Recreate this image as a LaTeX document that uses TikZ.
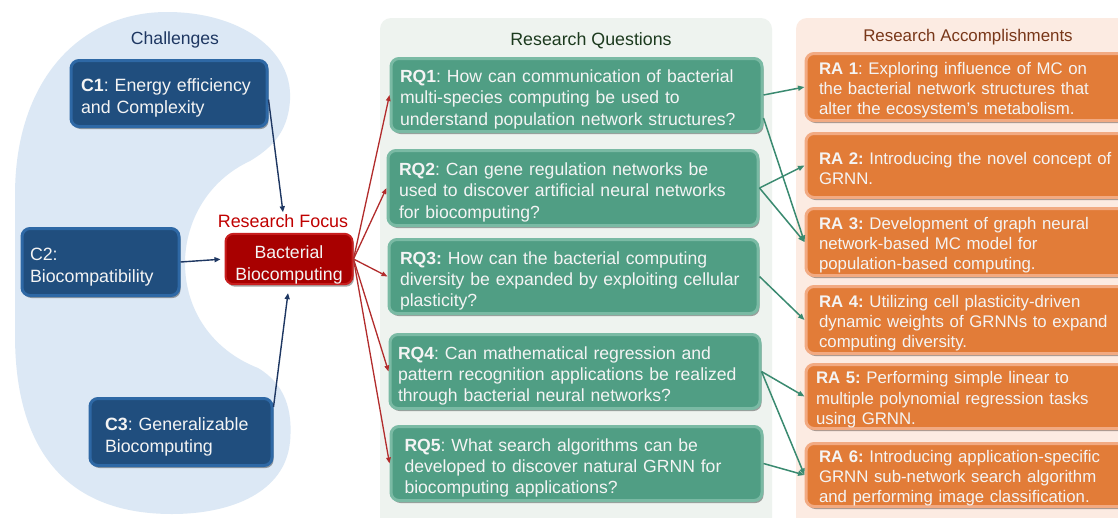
\documentclass[tikz,border=0pt]{standalone}
\usepackage{fontspec}
\setmainfont{Liberation Sans}
\usetikzlibrary{arrows.meta,shadows,calc}

\definecolor{blobblue}{RGB}{220,232,245}
\definecolor{cfill}{RGB}{32,78,126}
\definecolor{cborder}{RGB}{46,104,165}
\definecolor{ctitle}{RGB}{30,55,98}
\definecolor{focusred}{RGB}{192,0,0}
\definecolor{bffill}{RGB}{168,0,0}
\definecolor{bfborder}{RGB}{200,30,30}
\definecolor{rqpanel}{RGB}{238,243,239}
\definecolor{rqfill}{RGB}{80,158,132}
\definecolor{rqborder}{RGB}{122,186,164}
\definecolor{rqtitle}{RGB}{28,58,30}
\definecolor{rapanel}{RGB}{252,235,226}
\definecolor{rafill}{RGB}{226,124,56}
\definecolor{raborder}{RGB}{242,170,130}
\definecolor{ratitle}{RGB}{120,55,25}
\definecolor{boxtext}{RGB}{244,244,244}
\definecolor{redline}{RGB}{178,44,44}
\definecolor{greenline}{RGB}{58,138,112}

\begin{document}
\frenchspacing
\begin{tikzpicture}[x=1pt,y=-1pt,
  boxbase/.style={anchor=west, align=left, text=boxtext, rounded corners=8pt,
    line width=3pt, inner ysep=0pt,
    drop shadow={shadow xshift=1.5pt, shadow yshift=-2.5pt, opacity=0.35, fill=black}},
  cbox/.style={boxbase, draw=cborder, fill=cfill, font=\fontsize{17.8}{21.7}\selectfont,
    execute at begin node={\rule{0pt}{22pt}}},
  rqbox/.style={boxbase, draw=rqborder, fill=rqfill, font=\fontsize{17.6}{21.4}\selectfont,
    execute at begin node={\rule{0pt}{21.5pt}}},
  rabox/.style={boxbase, draw=raborder, fill=rafill, font=\fontsize{16.8}{20.3}\selectfont,
    execute at begin node={\rule{0pt}{18.5pt}}},
  bfbox/.style={align=center, text=boxtext, draw=bfborder, fill=bffill, rounded corners=8pt,
    line width=2pt, minimum width=127pt, minimum height=50pt, inner sep=0pt,
    font=\fontsize{17.7}{21.7}\selectfont,
    drop shadow={shadow xshift=1.5pt, shadow yshift=-2.5pt, opacity=0.35, fill=black}},
  heading/.style={font=\fontsize{17.6}{20}\selectfont, inner sep=2pt},
  bluearrow/.style={draw=ctitle, line width=1.4pt, -{Triangle[length=6pt,width=5pt]}},
  redarrow/.style={draw=redline, line width=1.3pt, -{Triangle[length=6pt,width=4.5pt]}},
  greenarrow/.style={draw=greenline, line width=1.5pt, -{Triangle[length=6.5pt,width=5pt]}}
]
\useasboundingbox (0,0) rectangle (1118,517);
\clip (0,0) rectangle (1118,517);
\fill[white] (0,0) rectangle (1118,517);

% kidney-shaped background of the challenges
\fill[blobblue] (167,12) .. controls (240,12) and (293,50) .. (290,100)
  .. controls (288,135) and (268,150) .. (250,161)
  .. controls (205,182) and (185,225) .. (185,263)
  .. controls (185,310) and (212,350) .. (258,368)
  .. controls (285,384) and (293,410) .. (290,442)
  .. controls (285,492) and (232,514) .. (172,514)
  .. controls (62,514) and (15,445) .. (15,335)
  -- (15,195) .. controls (15,80) and (80,12) .. (167,12) -- cycle;

% column panels
\fill[rqpanel, rounded corners=11pt] (380,18) rectangle (772,540);
\fill[rapanel, rounded corners=11pt] (796,18) rectangle (1140,540);

% headings
\node[heading, text=ctitle] (chal) at (175,40) {Challenges};
\node[heading, text=rqtitle, font=\fontsize{17.8}{20}\selectfont] (rqt) at (591,41) {Research Questions};
\node[heading, text=ratitle, font=\fontsize{16.9}{20}\selectfont] (rat) at (968,37) {Research Accomplishments};
\node[heading, text=focusred, font=\fontsize{17.9}{20}\selectfont] (rf) at (283,221) {Research Focus};

% challenges
\node[cbox, text width=176pt, inner xsep=10pt, minimum height=66pt] (c1) at (69.5,93.5)
  {\mbox{\textbf{C1}: Energy efficiency}\\\mbox{and Complexity}};
\node[cbox, text width=141pt, inner xsep=8pt, minimum height=67pt] (c2) at (20.5,262)
  {\mbox{C2:}\\\mbox{Biocompatibility}};
\node[cbox, text width=152pt, inner xsep=15pt, minimum height=67pt] (c3) at (88.5,432)
  {\mbox{\textbf{C3}: Generalizable}\\\mbox{Biocomputing}};

% research focus
\node[bfbox] (bf) at (289,259) {\rule{0pt}{25pt}Bacterial\\Biocomputing};

% research questions
\node[rqbox, text width=353pt, inner xsep=9pt, minimum height=73pt] (rq1) at (389.5,95)
  {\mbox{\textbf{RQ1}: How can communication of bacterial}\\\mbox{multi-species computing be used to}\\\mbox{understand population network structures?}};
\node[rqbox, text width=348pt, inner xsep=11pt, minimum height=75pt] (rq2) at (386.5,188)
  {\mbox{\textbf{RQ2}: Can gene regulation networks be}\\\mbox{used to discover artificial neural networks}\\\mbox{for biocomputing?}};
\node[rqbox, text width=347pt, inner xsep=11pt, minimum height=74pt] (rq3) at (387.5,276.5)
  {\mbox{\textbf{RQ3:} How can the bacterial computing}\\\mbox{diversity be expanded by exploiting cellular}\\\mbox{plasticity?}};
\node[rqbox, text width=354pt, inner xsep=8pt, minimum height=74pt] (rq4) at (388.5,371.5)
  {\mbox{\textbf{RQ4}: Can mathematical regression and}\\\mbox{pattern recognition applications be realized}\\\mbox{through bacterial neural networks?}};
\node[rqbox, text width=344pt, inner xsep=13.5pt, minimum height=74pt] (rq5) at (389.5,463.5)
  {\mbox{\textbf{RQ5}: What search algorithms can be}\\\mbox{developed to discover natural GRNN for}\\\mbox{biocomputing applications?}};

% research accomplishments
\node[rabox, text width=300pt, inner xsep=13pt, minimum height=67pt] (ra1) at (804.5,87)
  {\mbox{\textbf{RA 1}: Exploring influence of MC on}\\\mbox{the bacterial network structures that}\\\mbox{alter the ecosystem’s metabolism.}};
\node[rabox, text width=300pt, inner xsep=13pt, minimum height=64pt,
  execute at begin node={}] (ra2) at (804.5,165.5)
  {\mbox{\textbf{RA 2:} Introducing the novel concept of}\\\mbox{GRNN.}};
\node[rabox, text width=300pt, inner xsep=13pt, minimum height=67pt] (ra3) at (804.5,242)
  {\mbox{\textbf{RA 3:} Development of graph neural}\\\mbox{network-based MC model for}\\\mbox{population-based computing.}};
\node[rabox, text width=300pt, inner xsep=13pt, minimum height=67pt] (ra4) at (804.5,320)
  {\mbox{\textbf{RA 4:} Utilizing cell plasticity-driven}\\\mbox{dynamic weights of GRNNs to expand}\\\mbox{computing diversity.}};
\node[rabox, text width=300pt, inner xsep=10pt, minimum height=64pt] (ra5) at (804.5,396.5)
  {\mbox{\textbf{RA 5:} Performing simple linear to}\\\mbox{multiple polynomial regression tasks}\\\mbox{using GRNN.}};
\node[rabox, text width=300pt, inner xsep=13pt, minimum height=63pt] (ra6) at (804.5,475)
  {\mbox{\textbf{RA 6:} Introducing application-specific}\\\mbox{GRNN sub-network search algorithm}\\\mbox{and performing image classification.}};

% challenges into the focus
\draw[bluearrow] ($(c1.east)+(0,6)$) -- (rf.north);
\draw[bluearrow, shorten >=4pt] (c2.east) -- (bf.west);
\draw[bluearrow, shorten >=8pt] ($(c3.east)+(0,-25)$) -- (bf.south);

% focus to the questions
\foreach \q in {rq1,rq2,rq3,rq4,rq5}
  \draw[redarrow] (bf.east) -- (\q.west);

% questions to the accomplishments
\draw[greenarrow] (rq1.east) -- (ra1.west);
\draw[greenarrow] ($(rq1.east)+(0,23)$) -- (ra3.west);
\draw[greenarrow] (rq2.east) -- (ra2.west);
\draw[greenarrow] (rq2.east) -- (ra3.west);
\draw[greenarrow] (rq3.east) -- (ra4.west);
\draw[greenarrow] (rq4.east) -- (ra5.west);
\draw[greenarrow] (rq4.east) -- (ra6.west);
\draw[greenarrow] (rq5.east) -- (ra6.west);
\end{tikzpicture}
\end{document}
